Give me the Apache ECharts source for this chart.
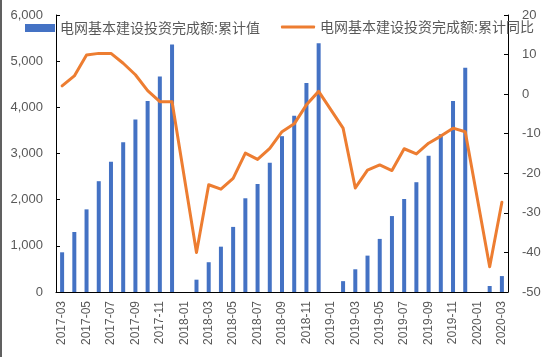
<!DOCTYPE html>
<html>
<head>
<meta charset="utf-8">
<script src="https://cdn.jsdelivr.net/npm/echarts@6/dist/echarts.min.js"></script>
<style>
html,body{margin:0;padding:0;background:#fff;}
#c{width:550px;height:357px;}
</style>
</head>
<body>
<div id="c"></div>
<script>
var categories = [
  '2017-03','2017-04','2017-05','2017-06','2017-07','2017-08','2017-09','2017-10','2017-11','2017-12',
  '2018-01','2018-02','2018-03','2018-04','2018-05','2018-06','2018-07','2018-08','2018-09','2018-10','2018-11','2018-12',
  '2019-01','2019-02','2019-03','2019-04','2019-05','2019-06','2019-07','2019-08','2019-09','2019-10','2019-11','2019-12',
  '2020-01','2020-02','2020-03'
];
var cumulativeValue = [
  860, 1300, 1790, 2400, 2820, 3245, 3735, 4135, 4670, 5360,
  null, 267, 645, 982, 1410, 2030, 2340, 2800, 3375, 3820, 4525, 5390,
  null, 235, 492, 788, 1150, 1645, 2015, 2378, 2952, 3418, 4135, 4855,
  null, 130, 345
];
var cumulativeYoY = [
  2.1, 4.6, 9.9, 10.3, 10.3, 7.8, 4.9, 0.9, -1.9, -1.9,
  null, -40.0, -22.9, -24.0, -21.3, -14.9, -16.5, -13.7, -9.5, -7.5, -2.7, 0.7,
  null, -8.6, -23.7, -19.2, -17.9, -19.3, -13.8, -15.1, -12.4, -10.6, -8.6, -9.5,
  null, -43.6, -27.3
];
var seriesNames = ['电网基本建设投资完成额:累计值', '电网基本建设投资完成额:累计同比'];
var leftTicks = [0, 6000, 1000];
var rightTicks = [-50, 20, 10];

var chart = echarts.init(document.getElementById('c'));
var axisColor = '#000000';
var labelColor = '#595959';
chart.setOption({
  animation: false,
  backgroundColor: '#ffffff',
  textStyle: { fontFamily: 'Liberation Sans, Arial, sans-serif' },
  grid: { left: 56, right: 42, top: 15, bottom: 65, containLabel: false },
  graphic: [
    { type: 'rect', left: 0, top: 0, shape: { x: 0, y: 0, width: 2, height: 357 }, style: { fill: '#606060' }, silent: true }
  ],
  legend: [
    {
      data: [seriesNames[0]], left: 25, top: 21, padding: 0,
      itemWidth: 30, itemHeight: 8, icon: 'rect',
      textStyle: { color: labelColor, fontSize: 14, fontFamily: 'Noto Sans CJK SC' }
    },
    {
      data: [{ name: seriesNames[1], icon: 'roundRect' }], left: 281, top: 20, padding: 0,
      itemWidth: 34, itemHeight: 3,
      textStyle: { color: labelColor, fontSize: 14, fontFamily: 'Noto Sans CJK SC' }
    }
  ],
  xAxis: {
    type: 'category',
    data: categories,
    boundaryGap: true,
    axisLine: { lineStyle: { color: axisColor, width: 1 } },
    axisTick: { inside: true, interval: 1, length: 4, lineStyle: { color: axisColor } },
    axisLabel: { interval: 1, rotate: 90, fontSize: 12, color: labelColor, margin: 9 }
  },
  yAxis: [
    {
      type: 'value', min: leftTicks[0], max: leftTicks[1], interval: leftTicks[2],
      axisLine: { show: true, lineStyle: { color: axisColor, width: 1 } },
      axisTick: { show: true, inside: true, length: 4, lineStyle: { color: axisColor } },
      splitLine: { show: false },
      axisLabel: {
        fontSize: 13, color: labelColor, margin: 13,
        formatter: function (v) { return v.toLocaleString('en-US'); }
      }
    },
    {
      type: 'value', min: rightTicks[0], max: rightTicks[1], interval: rightTicks[2],
      position: 'right',
      axisLine: { show: true, lineStyle: { color: axisColor, width: 1 } },
      axisTick: { show: true, inside: true, length: 4, lineStyle: { color: axisColor } },
      splitLine: { show: false },
      axisLabel: { fontSize: 13, color: labelColor, margin: 14 }
    }
  ],
  series: [
    {
      name: seriesNames[0], type: 'bar', yAxisIndex: 0,
      data: cumulativeValue, barWidth: 4,
      itemStyle: { color: '#4472C4' }
    },
    {
      name: seriesNames[1], type: 'line', yAxisIndex: 1,
      data: cumulativeYoY, connectNulls: true, symbol: 'none',
      lineStyle: { color: '#ED7D31', width: 3, join: 'round', cap: 'round' },
      itemStyle: { color: '#ED7D31' }
    }
  ]
});
</script>
</body>
</html>
